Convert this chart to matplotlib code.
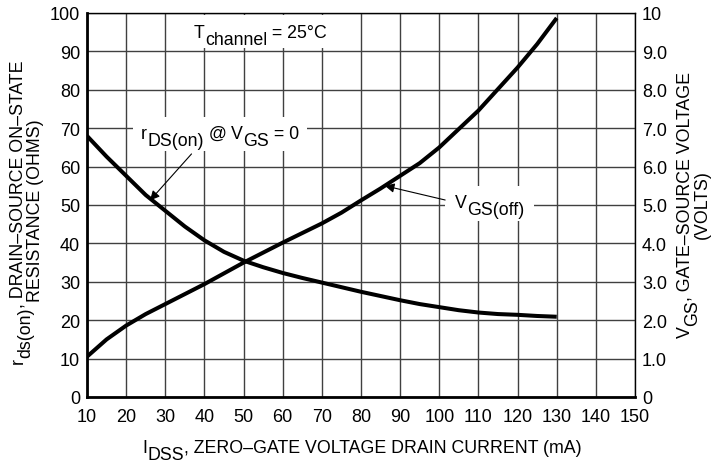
import numpy as np
import matplotlib
matplotlib.use('Agg')
from matplotlib import pyplot as plt
from matplotlib import transforms
from matplotlib.patches import Rectangle

# zero-gate drain current, mA
idss = [10, 15, 20, 25, 30, 35, 40, 45, 50, 55, 60, 65, 70,
        75, 80, 85, 90, 95, 100, 105, 110, 115, 120, 125, 130]
# on-state resistance, ohms (left axis)
rds_on = [68.0, 62.6, 57.6, 52.6, 48.5, 44.4, 40.8, 37.8, 35.5, 33.8, 32.3, 31.0, 29.8,
          28.6, 27.4, 26.3, 25.2, 24.2, 23.4, 22.6, 22.0, 21.6, 21.4, 21.1, 20.9]
# gate-source cutoff voltage, volts (right axis)
vgs_off = [1.05, 1.50, 1.86, 2.16, 2.42, 2.68, 2.94, 3.22, 3.50, 3.76, 4.02, 4.27, 4.52,
           4.80, 5.12, 5.43, 5.76, 6.09, 6.50, 6.98, 7.46, 8.02, 8.58, 9.19, 9.87]

x_ticks = list(range(10, 151, 10))
left_ticks = list(range(0, 101, 10))
right_ticks = list(range(0, 11))
right_labels = ['0', '1.0', '2.0', '3.0', '4.0', '5.0', '6.0', '7.0', '8.0', '9.0', '10']

FONT = ['Liberation Sans', 'DejaVu Sans']
plt.rcParams['font.family'] = FONT
W, H = 718, 464

fig = plt.figure(figsize=(W / 100, H / 100), dpi=100)
ax = fig.add_axes([87 / W, 1 - 398 / H, (635 - 87) / W, (398 - 14) / H])
ax.set_xlim(10, 150)
ax.set_ylim(0, 100)
ax.set_xticks(x_ticks)
ax.set_yticks(left_ticks)
ax.grid(True, color='#404040', lw=1.0)
ax.tick_params(length=0, labelsize=13)
ax.tick_params(axis='x', pad=8)
ax.tick_params(axis='y', pad=5)
for s in ['left', 'bottom']:
    ax.spines[s].set_linewidth(2.0)
for s in ['top', 'right']:
    ax.spines[s].set_linewidth(1.0)

ax.plot(idss, rds_on, color='black', lw=2.9, solid_capstyle='butt', zorder=3)

ax2 = ax.twinx()
ax2.set_ylim(0, 10)
ax2.set_yticks(right_ticks)
ax2.set_yticklabels(right_labels)
ax2.tick_params(length=0, labelsize=13, pad=5)
for s in ax2.spines.values():
    s.set_visible(False)
ax2.plot(idss, vgs_off, color='black', lw=2.9, solid_capstyle='butt', zorder=3)

renderer = fig.canvas.get_renderer()


def text_width(s, size):
    # width in points, keeps leading / trailing spaces
    t1 = fig.text(0, 0, 'x' + s + 'x', fontsize=size)
    t2 = fig.text(0, 0, 'xx', fontsize=size)
    w = t1.get_window_extent(renderer).width - t2.get_window_extent(renderer).width
    t1.remove()
    t2.remove()
    return w * 72 / fig.dpi


def rich_text(x, y, parts, size, trans, rotation=0, box=None, zorder=6):
    widths = [text_width(s, size) for s, _ in parts]
    total = sum(widths)
    a = np.deg2rad(rotation)
    u = (np.cos(a), np.sin(a))
    n = (-np.sin(a), np.cos(a))
    pos = -total / 2
    for (s, rise), w in zip(parts, widths):
        dx = pos * u[0] + rise * n[0]
        dy = pos * u[1] + rise * n[1]
        tr = transforms.offset_copy(trans, fig=fig, x=dx, y=dy, units='points')
        fig.text(x, y, s, transform=tr, ha='left', va='baseline', rotation=rotation,
                 rotation_mode='anchor', fontsize=size, zorder=zorder)
        pos += w
    if box is not None:
        pad, lo, hi = box
        bt = fig.dpi_scale_trans + transforms.ScaledTranslation(x, y, trans)
        ax.add_patch(Rectangle(((-total / 2 - pad) / 72, lo / 72), (total + 2 * pad) / 72,
                               (hi - lo) / 72, transform=bt, facecolor='white',
                               edgecolor='none', zorder=zorder - 1, clip_on=False))


SUB = -5.0
fs = 12.8

# annotations inside the plot
rich_text(54.3, 93.7, [('T', 0), ('channel', SUB), (' = 25\u00b0C', 0)], fs, ax.transData,
          box=(5, -8, 16))
rich_text(44.0, 67.4, [('r', 0), ('DS(on)', SUB), (' @ ', 0), ('V', 0), ('GS', SUB), (' = 0', 0)],
          fs, ax.transData, box=(6, -9, 15))
rich_text(112.9, 49.5, [('V', 0), ('GS(off)', SUB)], fs, ax.transData, box=(7, -10, 15))

ax.annotate('', xy=(26.1, 51.2), xytext=(36.7, 63.3),
            arrowprops=dict(arrowstyle='-|>', color='black', lw=0.8, mutation_scale=14,
                            shrinkA=0, shrinkB=0), zorder=6)
ax.annotate('', xy=(86.1, 55.0), xytext=(101.5, 51.3),
            arrowprops=dict(arrowstyle='-|>', color='black', lw=0.8, mutation_scale=14,
                            shrinkA=0, shrinkB=0), zorder=6)

# axis labels
ft = fig.transFigure
rich_text(362 / W, 1 - 453 / H, [('I', 0), ('DSS', SUB), (', ZERO\u2013GATE VOLTAGE DRAIN CURRENT (mA)', 0)],
          fs, ft)
rich_text(23 / W, 1 - 212 / H, [('r', 0), ('ds(on)', SUB), (', DRAIN\u2013SOURCE ON\u2013STATE', 0)],
          fs, ft, rotation=90)
rich_text(40 / W, 1 - 211 / H, [('RESISTANCE (OHMS)', 0)], fs, ft, rotation=90)
rich_text(690 / W, 1 - 205 / H, [('V', 0), ('GS', SUB), (', GATE\u2013SOURCE VOLTAGE', 0)],
          fs, ft, rotation=90)
rich_text(707 / W, 1 - 205 / H, [('(VOLTS)', 0)], fs, ft, rotation=90)

fig.savefig('out.png', dpi=100)
